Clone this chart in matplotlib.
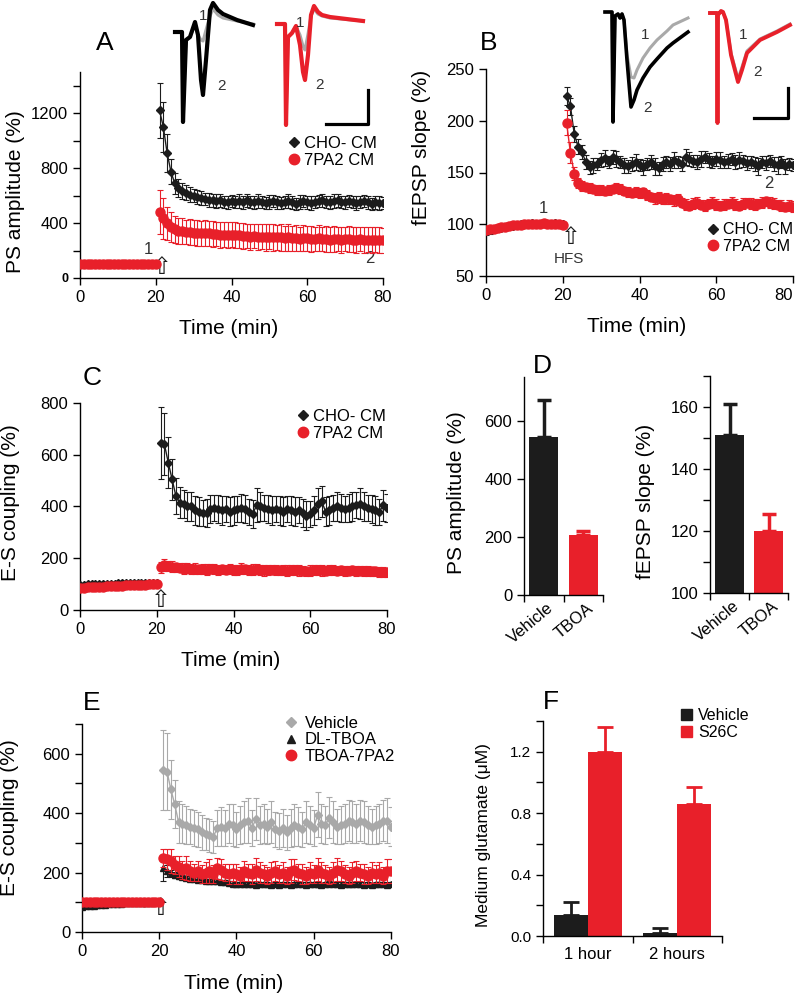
import numpy as np
import matplotlib
matplotlib.use('Agg')
import matplotlib.pyplot as plt
from matplotlib.lines import Line2D
from matplotlib.patches import Patch

plt.rcParams['font.family'] = ['Liberation Sans', 'DejaVu Sans']
plt.rcParams['axes.linewidth'] = 1.0
plt.rcParams['xtick.major.width'] = 1.0
plt.rcParams['ytick.major.width'] = 1.0
plt.rcParams['xtick.major.size'] = 5
plt.rcParams['ytick.major.size'] = 5
plt.rcParams['xtick.labelsize'] = 12
plt.rcParams['ytick.labelsize'] = 12

RED = '#e8202a'
BLACK = '#1c1c1c'
GRAY = '#a9a9a9'
TXT = '#333333'

# ---------------- data ----------------
t_base = np.arange(0, 21)
t_post = np.arange(21, 81)

# A: PS amplitude (%)
a_cho_base = [100, 99, 100, 101, 100, 99, 100, 101, 100, 100, 99, 100, 101, 100, 100, 99, 100, 101, 100, 100, 101]
a_7pa2_base = [99, 100, 100, 99, 100, 101, 100, 100, 99, 100, 100, 101, 100, 99, 100, 100, 101, 100, 100, 99, 100]
a_base_err = [8, 8, 7, 8, 8, 7, 8, 8, 7, 8, 8, 7, 8, 8, 7, 8, 8, 7, 8, 8, 7]
a_cho = [1220, 1100, 910, 775, 690, 655, 635, 620, 605, 600,
         590, 585, 575, 570, 565, 560, 565, 555, 550, 560,
         555, 560, 550, 565, 555, 550, 560, 555, 545, 555,
         560, 550, 545, 555, 560, 550, 540, 555, 560, 550,
         545, 555, 560, 565, 555, 550, 560, 565, 555, 550,
         560, 555, 545, 555, 560, 550, 540, 550, 545, 545]
a_cho_err = [200, 180, 140, 90, 75, 65, 60, 55, 55, 50,
             50, 50, 45, 50, 45, 50, 45, 45, 50, 45,
             45, 50, 45, 50, 45, 45, 50, 45, 45, 50,
             45, 50, 45, 45, 50, 45, 45, 50, 45, 45,
             50, 45, 45, 50, 45, 45, 50, 45, 45, 50,
             45, 45, 50, 45, 45, 50, 45, 45, 50, 45]
a_7pa2 = [480, 435, 400, 370, 355, 345, 340, 335, 335, 330,
          330, 325, 330, 325, 320, 320, 315, 315, 310, 315,
          310, 310, 305, 305, 300, 305, 300, 300, 295, 300,
          295, 295, 295, 290, 295, 290, 290, 285, 290, 290,
          285, 285, 290, 285, 285, 280, 285, 285, 280, 285,
          285, 280, 280, 285, 280, 280, 275, 280, 280, 275]
a_7pa2_err = [160, 150, 120, 110, 100, 95, 95, 90, 95, 90,
              95, 90, 95, 90, 95, 90, 95, 90, 95, 90,
              95, 90, 95, 90, 95, 90, 95, 90, 95, 90,
              95, 90, 95, 90, 95, 90, 95, 90, 95, 90,
              95, 90, 95, 90, 95, 90, 95, 90, 95, 90,
              95, 90, 95, 90, 95, 90, 95, 90, 95, 90]

# B: fEPSP slope (%)
b_cho_base = [93, 94, 95, 96, 96, 97, 98, 98, 99, 100, 100, 100, 101, 100, 100, 101, 100, 100, 101, 100, 100]
b_7pa2_base = [94, 95, 95, 96, 97, 97, 98, 99, 99, 99, 100, 100, 100, 100, 100, 101, 100, 100, 100, 100, 99]
b_base_err = [3, 3, 2, 3, 2, 2, 3, 2, 2, 3, 2, 2, 3, 2, 2, 3, 2, 2, 3, 2, 2]
b_cho = [224, 214, 187, 175, 170, 160, 155, 157, 158, 162,
         164, 160, 165, 163, 160, 157, 156, 158, 160, 157,
         155, 158, 160, 156, 154, 158, 160, 158, 162, 160,
         158, 165, 163, 161, 160, 163, 165, 162, 160, 163,
         162, 160, 161, 163, 160, 162, 161, 159, 160, 158,
         156, 160, 159, 161, 158, 157, 160, 156, 158, 157]
b_cho_err = [9, 8, 8, 7, 7, 7, 6, 7, 6, 7,
             8, 6, 7, 8, 6, 7, 6, 7, 8, 6,
             7, 6, 7, 8, 6, 7, 6, 7, 8, 6,
             7, 8, 7, 6, 7, 8, 6, 7, 6, 7,
             8, 6, 7, 6, 7, 8, 6, 7, 6, 7,
             8, 6, 7, 6, 7, 8, 6, 7, 6, 6]
b_7pa2 = [198, 169, 149, 140, 137, 136, 135, 134, 133, 133,
          132, 133, 134, 135, 134, 132, 131, 130, 131, 130,
          131, 128, 126, 125, 126, 124, 125, 124, 123, 124,
          121, 119, 118, 120, 121, 119, 118, 120, 121, 119,
          118, 119, 120, 121, 119, 118, 120, 121, 120, 119,
          120, 121, 122, 121, 120, 119, 118, 117, 118, 117]
b_7pa2_err = [12, 10, 6, 5, 5, 4, 5, 4, 5, 5,
              4, 5, 4, 5, 5, 4, 5, 4, 5, 5,
              4, 5, 4, 5, 5, 4, 5, 4, 5, 5,
              4, 5, 4, 5, 5, 4, 5, 4, 5, 5,
              4, 5, 4, 5, 5, 4, 5, 4, 5, 5,
              4, 5, 4, 5, 5, 4, 5, 4, 5, 5]

# C: E-S coupling (%)
c_cho_base = [97, 98, 99, 99, 100, 100, 101, 101, 102, 102, 103, 103, 103, 104, 104, 104, 105, 105, 105, 106, 106]
c_7pa2_base = [85, 86, 87, 88, 89, 90, 90, 91, 92, 93, 93, 94, 95, 95, 96, 97, 98, 98, 99, 100, 101]
c_base_err = [6, 6, 5, 6, 6, 5, 6, 6, 5, 6, 6, 5, 6, 6, 5, 6, 6, 5, 6, 6, 5]
c_cho = [645, 640, 570, 505, 440, 415, 410, 400, 400, 385,
         380, 375, 375, 390, 395, 390, 385, 390, 380, 385,
         390, 395, 390, 380, 370, 405, 400, 395, 390, 385,
         390, 385, 380, 390, 385, 380, 385, 375, 365, 370,
         385, 410, 420, 380, 385, 395, 400, 395, 390, 395,
         400, 405, 410, 400, 395, 390, 385, 380, 405, 395]
c_cho_err = [140, 120, 100, 80, 70, 60, 55, 55, 55, 55,
             55, 50, 55, 55, 50, 55, 55, 50, 55, 55,
             50, 55, 55, 50, 55, 65, 55, 50, 55, 55,
             50, 55, 55, 50, 55, 55, 50, 55, 55, 50,
             55, 60, 60, 55, 55, 50, 55, 55, 50, 55,
             55, 50, 60, 55, 50, 55, 55, 50, 60, 55]
c_7pa2 = [165, 175, 170, 168, 165, 163, 160, 162, 158, 160,
          157, 158, 156, 160, 158, 155, 157, 156, 158, 155,
          154, 160, 157, 155, 156, 158, 155, 153, 155, 156,
          154, 153, 155, 152, 154, 155, 153, 152, 150, 152,
          154, 155, 153, 152, 154, 155, 152, 153, 151, 152,
          153, 150, 152, 151, 150, 149, 150, 148, 147, 145]
c_7pa2_err = [22, 24, 20, 20, 18, 18, 20, 18, 18, 20,
              18, 18, 20, 18, 18, 20, 18, 18, 20, 18,
              18, 22, 18, 18, 20, 18, 18, 20, 18, 18,
              20, 18, 18, 20, 18, 18, 20, 18, 18, 20,
              18, 18, 20, 18, 18, 20, 18, 18, 20, 18,
              18, 20, 18, 18, 20, 18, 18, 20, 18, 18]

# D: bar summaries
d_groups = ['Vehicle', 'TBOA']
d_ps = [545, 205]
d_ps_err = [125, 15]
d_slope = [151, 120]
d_slope_err = [10, 5.5]

# E: E-S coupling (%) with TBOA
e_veh_base = [98, 99, 100, 100, 101, 100, 99, 100, 101, 100, 100, 99, 100, 101, 100, 100, 99, 100, 101, 100, 100]
e_tboa_base = [85, 86, 88, 89, 90, 91, 92, 93, 94, 94, 95, 96, 96, 97, 97, 98, 98, 99, 99, 100, 100]
e_t7_base = [100, 101, 100, 102, 101, 100, 101, 102, 101, 100, 101, 101, 100, 102, 101, 100, 101, 101, 100, 101, 100]
e_base_err = [5, 5, 4, 5, 5, 4, 5, 5, 4, 5, 5, 4, 5, 5, 4, 5, 5, 4, 5, 5, 4]
e_veh = [545, 540, 480, 430, 370, 365, 360, 355, 350, 345,
         335, 330, 325, 320, 350, 355, 350, 365, 360, 345,
         360, 370, 375, 350, 380, 360, 365, 355, 370, 345,
         340, 350, 335, 350, 360, 355, 345, 370, 360, 350,
         395, 365, 360, 385, 370, 355, 360, 365, 375, 370,
         365, 375, 370, 360, 355, 360, 365, 375, 375, 355]
e_veh_err = [135, 130, 100, 80, 70, 65, 65, 60, 60, 60,
             60, 55, 55, 55, 60, 65, 60, 65, 70, 60,
             65, 70, 75, 60, 70, 65, 65, 60, 70, 60,
             60, 65, 60, 65, 70, 65, 60, 70, 65, 60,
             75, 65, 65, 70, 70, 60, 65, 65, 70, 70,
             65, 70, 70, 65, 60, 65, 65, 70, 75, 65]
e_tboa = [215, 205, 198, 192, 188, 185, 182, 180, 178, 176,
          175, 173, 172, 170, 170, 168, 167, 165, 162, 160,
          162, 160, 161, 160, 158, 160, 162, 160, 158, 160,
          159, 160, 161, 158, 160, 162, 160, 159, 160, 161,
          160, 158, 160, 162, 161, 160, 159, 160, 161, 160,
          162, 160, 159, 160, 158, 160, 161, 160, 159, 160]
e_tboa_err = [45, 20, 12, 10, 10, 8, 8, 8, 7, 8,
              8, 7, 8, 8, 7, 8, 8, 7, 8, 8,
              7, 8, 8, 7, 8, 8, 7, 8, 8, 7,
              8, 8, 7, 8, 8, 7, 8, 8, 7, 8,
              8, 7, 8, 8, 7, 8, 8, 7, 8, 8,
              7, 8, 8, 7, 8, 8, 7, 8, 8, 7]
e_t7 = [250, 245, 240, 225, 220, 210, 215, 205, 200, 205,
        195, 200, 205, 195, 215, 210, 200, 195, 200, 195,
        190, 205, 200, 195, 210, 200, 195, 190, 200, 205,
        195, 200, 190, 205, 210, 200, 195, 190, 200, 195,
        210, 200, 195, 190, 200, 210, 205, 195, 190, 200,
        205, 200, 195, 190, 200, 195, 200, 190, 205, 205]
e_t7_err = [30, 35, 40, 30, 35, 30, 40, 35, 30, 35,
            30, 35, 40, 30, 35, 35, 30, 35, 30, 35,
            30, 35, 30, 35, 40, 35, 30, 30, 35, 35,
            30, 35, 30, 40, 35, 30, 35, 30, 35, 30,
            40, 35, 30, 30, 35, 40, 35, 30, 30, 35,
            35, 30, 35, 30, 35, 30, 35, 30, 40, 40]

# F: medium glutamate (uM)
f_groups = ['1 hour', '2 hours']
f_vehicle = [0.14, 0.02]
f_vehicle_err = [0.08, 0.03]
f_s26c = [1.20, 0.86]
f_s26c_err = [0.16, 0.11]

# inset traces (ms, mV), pre-HFS (1, gray) and post-HFS (2)
a1_t = [0, 0.7, 0.8, 1.1, 1.5, 2.0, 2.3, 2.6, 2.8, 3.1, 3.5, 3.8, 4.3, 4.8, 6.2, 7.8]
a1_post = [0, 0, -9.0, -0.8, -0.5, 1.0, -0.3, -4.8, -6.3, -2.8, 2.2, 2.9, 2.2, 1.8, 1.2, 0.7]
a1_pre = [0, 0, -9.0, -0.8, -0.5, 0.8, -0.3, -0.8, -0.9, 0.2, 1.6, 2.3, 1.7, 1.4, 1.1, 0.8]
a2_t = [0, 0.8, 0.9, 1.1, 1.5, 1.9, 2.3, 2.6, 2.8, 3.1, 3.4, 3.7, 4.1, 4.5, 5.3, 8.6]
a2_post = [0, 0, -10.1, -1.3, -0.9, -0.2, -2.1, -4.8, -5.6, -3.1, 0.9, 1.8, 1.2, 0.9, 0.7, 0.3]
a2_pre = [0, 0, -10.1, -1.3, -0.9, -0.2, -1.1, -2.2, -2.6, -1.0, 0.8, 1.5, 1.0, 0.8, 0.6, 0.3]
b1_t = [0, 0.7, 0.8, 1.0, 1.3, 1.5, 1.7, 1.9, 2.2, 2.6, 2.9, 3.2, 3.8, 4.5, 5.2, 6.2, 6.8, 8.3]
b1_post = [0, 0, -11.0, -0.4, -0.2, -0.6, -0.2, -0.8, -4.8, -9.5, -8.8, -7.8, -6.6, -5.5, -4.7, -3.6, -3.1, -2.0]
b1_pre = [0, 0, -11.0, -0.4, -0.2, -0.6, -0.2, -0.8, -4.3, -6.5, -6.6, -5.8, -4.6, -3.6, -2.8, -1.9, -1.3, -0.6]
b2_t = [0, 0.7, 0.75, 0.8, 1.1, 1.3, 1.6, 2.1, 2.8, 3.2, 3.7, 5.0, 6.7, 8.0]
b2_post = [0, 0, -11.0, -0.2, 0.2, 0.1, -0.7, -4.2, -6.9, -5.7, -4.0, -2.7, -1.9, -1.2]
b2_pre = [0, 0, -11.0, -0.2, 0.2, 0.1, -0.7, -4.0, -6.6, -5.4, -3.8, -2.6, -1.8, -1.1]

# ---------------- helpers ----------------
W, H = 800, 998
fig = plt.figure(figsize=(8, 9.98), dpi=100)


def px_axes(x0, y0, x1, y1):
    # axes box given in pixel coords of the figure (origin top-left)
    return fig.add_axes([x0 / W, 1 - y1 / H, (x1 - x0) / W, (y1 - y0) / H])


def plot_series(ax, base, base_err, post, post_err, color, marker, ms, z):
    # baseline and post-HFS drawn separately (no line across the HFS jump)
    for t, y, e in ((t_base, base, base_err), (t_post, post, post_err)):
        ax.errorbar(t, y, yerr=e, fmt=marker + '-', color=color, ecolor=color,
                    ms=ms, lw=1, elinewidth=0.8, capsize=2.2, capthick=0.8,
                    mec=color, zorder=z)


def clean(ax):
    ax.spines['top'].set_visible(False)
    ax.spines['right'].set_visible(False)


def time_axis(ax, ylim, ylabel, ylab_xy):
    clean(ax)
    ax.set_xlim(0, 80)
    ax.set_xticks([0, 20, 40, 60, 80])
    ax.set_ylim(*ylim)
    ax.set_xlabel('Time (min)', fontsize=15)
    ax.xaxis.set_label_coords(0.49, -0.2)
    ax.set_ylabel(ylabel, fontsize=15)
    ax.yaxis.set_label_coords(*ylab_xy)


def hfs_arrow(ax, x, y):
    ax.text(x, y, '\u21e7', fontsize=17, ha='center', va='bottom',
            family=['DejaVu Sans'], color=BLACK)


def trace_axes(box, xlim, ylim):
    ax = px_axes(*box)
    ax.set_xlim(*xlim)
    ax.set_ylim(*ylim)
    ax.axis('off')
    return ax


def panel_letter(x, y, s):
    fig.text(x / W, 1 - y / H, s, fontsize=19, ha='center', va='center')


def small_legend(ax, handles, labels, anchor, fs=12, pad=0.1):
    ax.legend(handles, labels, loc='upper left', bbox_to_anchor=anchor,
              frameon=False, fontsize=fs, handletextpad=pad, labelspacing=0.1,
              handlelength=1.0, borderpad=0, borderaxespad=0)


# ---------------- panel A ----------------
axA = px_axes(80, 72, 383, 278)
plot_series(axA, a_cho_base, a_base_err, a_cho, a_cho_err, BLACK, 'D', 4.5, 3)
plot_series(axA, a_7pa2_base, a_base_err, a_7pa2, a_7pa2_err, RED, 'o', 6.5, 4)
time_axis(axA, (0, 1500), 'PS amplitude (%)', (-0.18, 0.42))
axA.set_yticks(np.arange(0, 1401, 200))
axA.set_yticklabels(['0', '', '400', '', '800', '', '1200', ''])
lab0 = axA.get_yticklabels()[0]
lab0.set_fontweight('bold')
lab0.set_fontsize(9)
hfs_arrow(axA, 21.5, -10)
axA.text(18, 205, '1', fontsize=12, color=TXT, ha='center', va='center')
axA.text(76.5, 140, '2', fontsize=12, color=TXT, ha='center', va='center')
leg_h = [Line2D([], [], ls='none', marker='D', ms=5, color=BLACK),
         Line2D([], [], ls='none', marker='o', ms=7.5, color=RED)]
small_legend(axA, leg_h, ['CHO- CM', '7PA2 CM'], (0.68, 0.69))
panel_letter(105, 43, 'A')

# ---------------- panel B ----------------
axB = px_axes(486, 69, 793, 276)
plot_series(axB, b_cho_base, b_base_err, b_cho, b_cho_err, BLACK, 'D', 4.5, 3)
plot_series(axB, b_7pa2_base, b_base_err, b_7pa2, b_7pa2_err, RED, 'o', 6.5, 4)
time_axis(axB, (50, 250), 'fEPSP slope (%)', (-0.18, 0.62))
axB.set_yticks([50, 100, 150, 200, 250])
axB.get_xticklabels()[-1].set_horizontalalignment('right')  # keep "80" inside the figure
hfs_arrow(axB, 22, 76)
axB.text(21.5, 66, 'HFS', fontsize=11, color=TXT, ha='center', va='center')
axB.text(15, 115, '1', fontsize=12, color=TXT, ha='center', va='center')
axB.text(73.7, 139, '2', fontsize=12, color=TXT, ha='center', va='center')
small_legend(axB, leg_h, ['CHO- CM', '7PA2 CM'], (0.715, 0.26), fs=11.5)
panel_letter(489, 43, 'B')

# inset traces for A and B
tA1 = trace_axes((170, 0, 262, 128), (-0.5, 8.7), (-9.6, 3.2))
tA1.plot(a1_t, a1_pre, color=GRAY, lw=2.2, solid_joinstyle='round')
tA1.plot(a1_t, a1_post, color='black', lw=3, solid_joinstyle='round')
tA1.text(2.8, 1.6, '1', fontsize=11, color=TXT, ha='center', va='center')
tA1.text(4.7, -5.4, '2', fontsize=11, color=TXT, ha='center', va='center')

tA2 = trace_axes((270, 0, 372, 128), (-0.7, 9.5), (-10.4, 2.4))
tA2.plot(a2_t, a2_pre, color=GRAY, lw=2.2, solid_joinstyle='round')
tA2.plot(a2_t, a2_post, color=RED, lw=3, solid_joinstyle='round')
tA2.text(2.3, 0.1, '1', fontsize=11, color=TXT, ha='center', va='center')
tA2.text(4.3, -6.1, '2', fontsize=11, color=TXT, ha='center', va='center')
tA2.plot([4.9, 9.1, 9.1], [-10.0, -10.0, -6.6], color='black', lw=2.3)

tB1 = trace_axes((600, 0, 700, 128), (-0.5, 9.5), (-11.6, 1.2))
tB1.plot(b1_t, b1_pre, color=GRAY, lw=2.2, solid_joinstyle='round')
tB1.plot(b1_t, b1_post, color='black', lw=2.6, solid_joinstyle='round')
tB1.text(4.0, -2.3, '1', fontsize=11, color=TXT, ha='center', va='center')
tB1.text(4.2, -9.6, '2', fontsize=11, color=TXT, ha='center', va='center')

tB2 = trace_axes((705, 0, 800, 128), (-0.5, 9.0), (-11.5, 1.3))
tB2.plot(b2_t, b2_pre, color=GRAY, lw=2.2, solid_joinstyle='round')
tB2.plot(b2_t, b2_post, color=RED, lw=2.8, solid_joinstyle='round')
tB2.text(3.3, -2.2, '1', fontsize=11, color=TXT, ha='center', va='center')
tB2.text(4.7, -5.9, '2', fontsize=11, color=TXT, ha='center', va='center')
tB2.plot([4.4, 7.8, 7.8], [-10.5, -10.5, -7.5], color='black', lw=2.3)

# ---------------- panel C ----------------
axC = px_axes(80, 403, 387, 610)
plot_series(axC, c_cho_base, c_base_err, c_cho, c_cho_err, BLACK, 'D', 4.5, 3)
plot_series(axC, c_7pa2_base, c_base_err, c_7pa2, c_7pa2_err, RED, 'o', 6.5, 4)
time_axis(axC, (0, 800), 'E-S coupling (%)', (-0.195, 0.52))
axC.set_yticks(np.arange(0, 801, 200))
hfs_arrow(axC, 21, -8)
small_legend(axC, leg_h, ['CHO- CM', '7PA2 CM'], (0.7, 0.97))
panel_letter(92, 378, 'C')

# ---------------- panel D ----------------
xd = np.arange(len(d_groups))
d_colors = [BLACK, RED]

axD1 = px_axes(524, 377, 603, 595)
axD1.bar(xd, d_ps, width=0.73, color=d_colors)
for i in range(len(xd)):
    axD1.errorbar(xd[i], d_ps[i], yerr=[[0], [d_ps_err[i]]], fmt='none', ecolor=d_colors[i],
                  elinewidth=2.5, capsize=5, capthick=2.5)
clean(axD1)
axD1.set_xlim(-0.5, 1.5)
axD1.set_ylim(0, 750)
axD1.set_yticks([0, 200, 400, 600])
axD1.set_ylabel('PS amplitude (%)', fontsize=15)
axD1.yaxis.set_label_coords(-0.73, 0.47)

axD2 = px_axes(710, 376, 788, 593)
axD2.bar(xd, d_slope, width=0.73, color=d_colors)
for i in range(len(xd)):
    axD2.errorbar(xd[i], d_slope[i], yerr=[[0], [d_slope_err[i]]], fmt='none', ecolor=d_colors[i],
                  elinewidth=2.5, capsize=5, capthick=2.5)
clean(axD2)
axD2.set_xlim(-0.5, 1.5)
axD2.set_ylim(100, 170)
axD2.set_yticks(np.arange(100, 171, 10))
axD2.set_yticklabels(['100', '', '120', '', '140', '', '160', ''])
axD2.set_ylabel('fEPSP slope (%)', fontsize=15)
axD2.yaxis.set_label_coords(-0.705, 0.42)

for ax in (axD1, axD2):
    ax.set_xticks([-0.5, 0.5, 1.5])
    ax.set_xticklabels([])
    ax.set_xticks(xd + 0.08, minor=True)
    ax.set_xticklabels(d_groups, minor=True, rotation=40, ha='right', va='top',
                       rotation_mode='anchor', fontsize=12)
    ax.tick_params(axis='x', which='minor', length=0, pad=4)
panel_letter(542, 366, 'D')

# ---------------- panel E ----------------
axE = px_axes(82, 724, 391, 932)
plot_series(axE, e_veh_base, e_base_err, e_veh, e_veh_err, GRAY, 'D', 4.5, 2)
plot_series(axE, e_tboa_base, e_base_err, e_tboa, e_tboa_err, BLACK, '^', 5, 3)
plot_series(axE, e_t7_base, e_base_err, e_t7, e_t7_err, RED, 'o', 6.5, 4)
time_axis(axE, (0, 700), 'E-S coupling (%)', (-0.204, 0.55))
axE.set_yticks(np.arange(0, 701, 100))
axE.set_yticklabels(['0', '', '200', '', '400', '', '600', ''])
hfs_arrow(axE, 20.3, 40)
leg_e = [Line2D([], [], ls='none', marker='D', ms=5, color=GRAY),
         Line2D([], [], ls='none', marker='^', ms=6, color=BLACK),
         Line2D([], [], ls='none', marker='o', ms=7.5, color=RED)]
small_legend(axE, leg_e, ['Vehicle', 'DL-TBOA', 'TBOA-7PA2'], (0.65, 1.04), pad=0.3)
panel_letter(92, 703, 'E')

# ---------------- panel F ----------------
xf = np.arange(len(f_groups))
bw = 0.38
axF = px_axes(543, 721, 722, 936)
axF.bar(xf - bw / 2, f_vehicle, width=bw, color=BLACK)
axF.bar(xf + bw / 2, f_s26c, width=bw, color=RED)
axF.errorbar(xf - bw / 2, f_vehicle, yerr=[[0, 0], f_vehicle_err], fmt='none',
             ecolor=BLACK, elinewidth=2, capsize=6, capthick=2)
axF.errorbar(xf + bw / 2, f_s26c, yerr=[[0, 0], f_s26c_err], fmt='none',
             ecolor=RED, elinewidth=2, capsize=6, capthick=2)
clean(axF)
axF.set_xlim(-0.5, 1.5)
axF.set_ylim(0, 1.4)
axF.set_yticks(np.arange(0, 1.41, 0.2))
axF.set_yticklabels(['0.0', '', '0.4', '', '0.8', '', '1.2', ''], fontsize=11)
axF.set_xticks([-0.5, 0.5, 1.5])
axF.set_xticklabels([])
axF.set_xticks(xf, minor=True)
axF.set_xticklabels(f_groups, minor=True, fontsize=12)
axF.tick_params(axis='x', which='minor', length=0, pad=8)
axF.set_ylabel('Medium glutamate (\u03bcM)', fontsize=12.5)
axF.yaxis.set_label_coords(-0.29, 0.47)
leg_f = [Patch(color=BLACK), Patch(color=RED)]
axF.legend(leg_f, ['Vehicle', 'S26C'], loc='upper left', bbox_to_anchor=(0.77, 1.06),
           frameon=False, fontsize=11.5, handletextpad=0.4, labelspacing=0.1,
           handlelength=0.7, handleheight=0.7, borderpad=0, borderaxespad=0)
panel_letter(551, 702, 'F')

fig.savefig('out.png', dpi=100)
